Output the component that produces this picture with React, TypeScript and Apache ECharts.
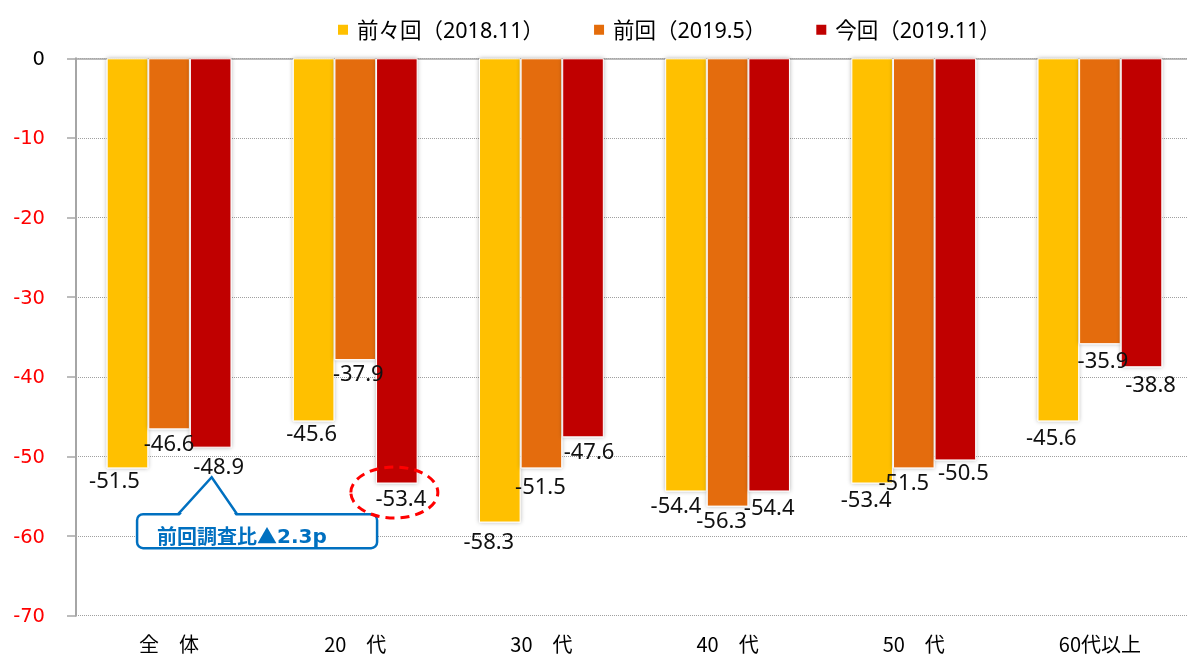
import React, { useEffect, useRef } from 'react';
import * as echarts from 'echarts';

const categories = ['全　体', '20　代', '30　代', '40　代', '50　代', '60代以上'];
const seriesNames = ['前々回（2018.11）', '前回（2019.5）', '今回（2019.11）'];
const prev2Values = [-51.5, -45.6, -58.3, -54.4, -53.4, -45.6];
const prev1Values = [-46.6, -37.9, -51.5, -56.3, -51.5, -35.9];
const currentValues = [-48.9, -53.4, -47.6, -54.4, -50.5, -38.8];
const yMin = -70;
const yMax = 0;
const yInterval = 10;
const calloutText = ['前回調査比▲', '2.3p'];

// label nudges (dx, dy) to mimic the reference label placement
const prev2Nudges = [[-13, -2], [-2, -2], [-11, 4.5], [-10, -0.5], [-6, 1.5], [-7, 1.5]];
const prev1Nudges = [[0, -0.7], [3, -1], [-1, 3.5], [-6, -0.6], [-10, 0], [3, 2]];
const currentNudges = [[8, 4.6], [4, 0], [6, 0], [0, 2], [8, -2], [9, 3]];

const colors = ['#FFC000', '#E46C0A', '#C00000'];
const BAR_W = 41.6;

export default function App() {
  const ref = useRef<HTMLDivElement>(null);
  useEffect(() => {
    const chart = echarts.init(ref.current!, null, { renderer: 'svg' });
    const mkSeries = (name: string, data: number[], color: string, nudges: number[][]) => ({
      type: 'bar',
      name,
      xAxisIndex: 0,
      yAxisIndex: 0,
      data: data.map((v, i) => ({ value: v, label: { offset: nudges[i] } })),
      barWidth: BAR_W,
      barGap: '0%',
      itemStyle: {
        color,
        borderColor: '#ffffff',
        borderWidth: 1,
        shadowBlur: 4,
        shadowColor: 'rgba(0,0,0,0.3)',
      },
      label: {
        show: true,
        position: 'bottom',
        distance: 2,
        fontFamily: 'Noto Sans',
        fontSize: 22,
        lineHeight: 22,
        color: '#111',
      },
    });
    chart.setOption({
      animation: false,
      grid: { left: 76, right: -6, top: 58.3, bottom: 43.3, containLabel: false, outerBoundsMode: 'none' },
      legend: {
        left: 333,
        top: 14,
        itemWidth: 10,
        itemHeight: 10,
        itemGap: 50,
        icon: 'rect',
        itemStyle: { borderWidth: 0, shadowBlur: 0 },
        textStyle: {
          fontFamily: '"Noto Sans", "Noto Sans CJK JP"',
          fontSize: 21.5,
          color: '#000',
          padding: [0, 0, 0, 4],
        },
        data: seriesNames,
      },
      xAxis: [
        {
          type: 'category',
          data: categories,
          position: 'bottom',
          axisLine: { show: false, onZero: false },
          axisTick: { show: false },
          axisLabel: {
            fontFamily: 'Noto Sans CJK JP',
            fontSize: 20,
            lineHeight: 20,
            color: '#000',
            margin: 18,
          },
          splitLine: { show: false },
        },
        {
          type: 'category',
          data: categories,
          position: 'top',
          axisLine: { show: true, onZero: false, lineStyle: { color: '#A6A6A6', width: 1.5 } },
          axisTick: { show: false },
          axisLabel: { show: false },
          splitLine: { show: false },
        },
      ],
      yAxis: {
        type: 'value',
        min: yMin,
        max: yMax,
        interval: yInterval,
        axisLine: { show: true, lineStyle: { color: '#A6A6A6', width: 2 } },
        axisTick: { show: true, length: 9, lineStyle: { color: '#A6A6A6', width: 1.5 } },
        axisLabel: {
          fontFamily: 'DejaVu Sans',
          fontSize: 19.5,
          margin: 31,
          color: (val: any) => (Number(val) === 0 ? '#000000' : '#FF0000'),
        },
        splitLine: { show: true, lineStyle: { type: 'dotted', color: '#A0A0A0', width: 1 } },
      },
      series: [
        mkSeries(seriesNames[0], prev2Values, colors[0], prev2Nudges),
        mkSeries(seriesNames[1], prev1Values, colors[1], prev1Nudges),
        mkSeries(seriesNames[2], currentValues, colors[2], currentNudges),
      ],
    });

    const p = chart.convertToPixel({ xAxisIndex: 0, yAxisIndex: 0 }, [0, currentValues[0]]) as number[];
    const q = chart.convertToPixel({ xAxisIndex: 0, yAxisIndex: 0 }, [1, currentValues[1]]) as number[];
    const apex = [p[0] + BAR_W + 1, p[1] + 29.5];
    const boxX = p[0] - 32;
    const boxY = p[1] + 66.5;
    const bx1 = p[0] + 9;
    const bx2 = p[0] + 68;
    const blue = '#0070C0';
    chart.setOption({
      graphic: [
        {
          type: 'rect',
          z: 100,
          shape: { x: boxX, y: boxY, width: 240, height: 34, r: 6 },
          style: { fill: '#ffffff', stroke: blue, lineWidth: 2.5 },
        },
        {
          type: 'polygon',
          z: 101,
          shape: { points: [[bx1 + 1, boxY + 2], [apex[0], apex[1] + 2], [bx2 - 1, boxY + 2]] },
          style: { fill: '#ffffff' },
        },
        {
          type: 'polyline',
          z: 102,
          shape: { points: [[bx1, boxY], [apex[0], apex[1]], [bx2, boxY]] },
          style: { stroke: blue, lineWidth: 2.5, fill: null },
        },
        {
          type: 'text',
          z: 103,
          x: boxX + 20,
          y: boxY + 21.5,
          style: {
            text: `{a|${calloutText[0]}}{b|${calloutText[1]}}`,
            verticalAlign: 'middle',
            align: 'left',
            rich: {
              a: { fontFamily: 'Noto Sans CJK JP', fontWeight: 'bold', fontSize: 20, fill: blue },
              b: { fontFamily: 'DejaVu Sans', fontWeight: 'bold', fontSize: 20, fill: blue },
            },
          },
        },
        {
          type: 'ellipse',
          z: 104,
          shape: { cx: q[0] + BAR_W - 2.5, cy: q[1] + 9, rx: 43.5, ry: 25.5 },
          style: { fill: 'none', stroke: '#FF0000', lineWidth: 3, lineDash: [9, 6] },
        },
      ],
    });

    return () => chart.dispose();
  }, []);
  return <div ref={ref} style={{ position: 'fixed', left: 0, top: 0, width: 1187, height: 659 }} />;
}
